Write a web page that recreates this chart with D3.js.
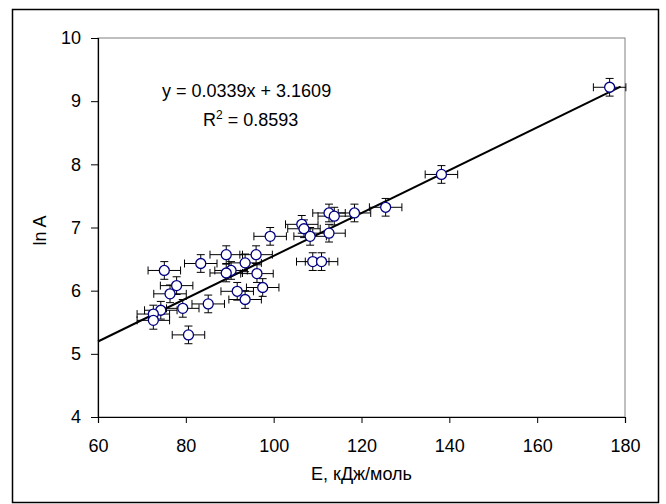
<!DOCTYPE html>
<html>
<head>
<meta charset="utf-8">
<script src="https://cdn.jsdelivr.net/npm/d3@7"></script>
<style>
  body { margin: 0; background: #fff; }
  svg { display: block; font-family: "Liberation Sans", Arial, sans-serif; }
</style>
</head>
<body>
<svg id="chart" width="666" height="504"></svg>
<script>
const energy = [75.1, 83.4, 89.2, 93.5, 96.0, 90.3, 89.2, 96.2, 77.9, 76.4,
  91.7, 93.5, 97.5, 85.1, 79.3, 74.3, 72.6, 72.6, 80.6, 99.2,
  106.4, 106.9, 108.3, 112.6, 113.8, 112.6, 118.4, 125.5, 108.9, 110.9,
  138.2, 176.5];
const lnA = [6.32, 6.43, 6.57, 6.44, 6.57, 6.32, 6.28, 6.27, 6.08, 5.95,
  5.99, 5.86, 6.05, 5.79, 5.72, 5.69, 5.63, 5.53, 5.30, 6.86,
  7.05, 6.98, 6.86, 7.23, 7.18, 6.91, 7.23, 7.32, 6.46, 6.46,
  7.84, 9.22];
const errE = 3.7;
const errLnA = 0.14;

const xTicks = [60, 80, 100, 120, 140, 160, 180];
const yTicks = [4, 5, 6, 7, 8, 9, 10];

const slope = 0.0339, intercept = 3.1609;
const trendFrom = 60, trendTo = 179;
const eqText = "y = 0.0339x + 3.1609";
const r2Text = "0.8593";

let margin = {left: 98, top: 38, right: 41, bottom: 87};
let W = 666, H = 504;

let svg = d3.select("#chart");

// outer chart frame
svg.append("rect")
  .attr("x", 12.5).attr("y", 9.5)
  .attr("width", 646).attr("height", 493)
  .attr("fill", "#fff")
  .attr("stroke", "#000")
  .attr("stroke-width", 1.5);

let x = d3.scaleLinear().domain([60, 180]).range([margin.left, W - margin.right]);
let y = d3.scaleLinear().domain([4, 10]).range([H - margin.bottom, margin.top]);

// plot area border (gray top/right)
svg.append("rect")
  .attr("x", x(60)).attr("y", y(10))
  .attr("width", x(180) - x(60)).attr("height", y(4) - y(10))
  .attr("fill", "none")
  .attr("stroke", "#808080")
  .attr("stroke-width", 1);

let xAxis = svg.append("g")
  .attr("transform", `translate(0,${y(4)})`)
  .call(d3.axisBottom(x).tickValues(xTicks).tickFormat(d3.format("d")).tickSize(6).tickPadding(16));
let yAxis = svg.append("g")
  .attr("transform", `translate(${x(60)},0)`)
  .call(d3.axisLeft(y).tickValues(yTicks).tickFormat(d3.format("d")).tickSize(7).tickPadding(10));

[xAxis, yAxis].forEach(a => {
  a.select(".domain").attr("stroke", "#000").attr("stroke-width", 1.2);
  a.selectAll(".tick line").attr("stroke", "#000");
  a.selectAll("text")
    .attr("fill", "#000")
    .style("font-size", "18px")
    .style("font-family", '"Liberation Sans", Arial, sans-serif');
});

// axis titles
svg.append("text")
  .attr("x", (x(60) + x(180)) / 2)
  .attr("y", 480)
  .attr("text-anchor", "middle")
  .style("font-size", "18px")
  .text("E, кДж/моль");

svg.append("text")
  .attr("transform", `translate(46,${(y(4) + y(10)) / 2 + 3}) rotate(-90)`)
  .attr("text-anchor", "middle")
  .style("font-size", "18px")
  .text("ln A");

// trendline
svg.append("line")
  .attr("x1", x(trendFrom)).attr("y1", y(slope * trendFrom + intercept))
  .attr("x2", x(trendTo)).attr("y2", y(slope * trendTo + intercept))
  .attr("stroke", "#000")
  .attr("stroke-width", 2);

let pts = energy.map((e, i) => ({e: e, a: lnA[i]}));

let bars = svg.append("g")
  .attr("stroke", "#000")
  .attr("stroke-width", 1)
  .attr("fill", "none");

pts.forEach(d => {
  let cx = x(d.e), cy = y(d.a);
  let x0 = x(d.e - errE), x1 = x(d.e + errE);
  let y0 = y(d.a - errLnA), y1 = y(d.a + errLnA);
  bars.append("path")
    .attr("d", `M${x0},${cy}H${x1}M${x0},${cy - 4}V${cy + 4}M${x1},${cy - 4}V${cy + 4}` +
      `M${cx},${y0}V${y1}M${cx - 4},${y0}H${cx + 4}M${cx - 4},${y1}H${cx + 4}`);
});

svg.append("g")
  .selectAll("circle")
  .data(pts)
  .enter()
  .append("circle")
  .attr("cx", d => x(d.e))
  .attr("cy", d => y(d.a))
  .attr("r", 5)
  .attr("fill", "#fff")
  .attr("stroke", "#000080")
  .attr("stroke-width", 1.3);

// equation label
svg.append("text")
  .attr("x", 162).attr("y", 97)
  .style("font-size", "18px")
  .text(eqText);

let r2 = svg.append("text")
  .attr("x", 203).attr("y", 126)
  .style("font-size", "18px");
r2.append("tspan").text("R");
r2.append("tspan").attr("dy", -7).style("font-size", "12px").text("2");
r2.append("tspan").attr("dy", 7).text(" = " + r2Text);
</script>
</body>
</html>
